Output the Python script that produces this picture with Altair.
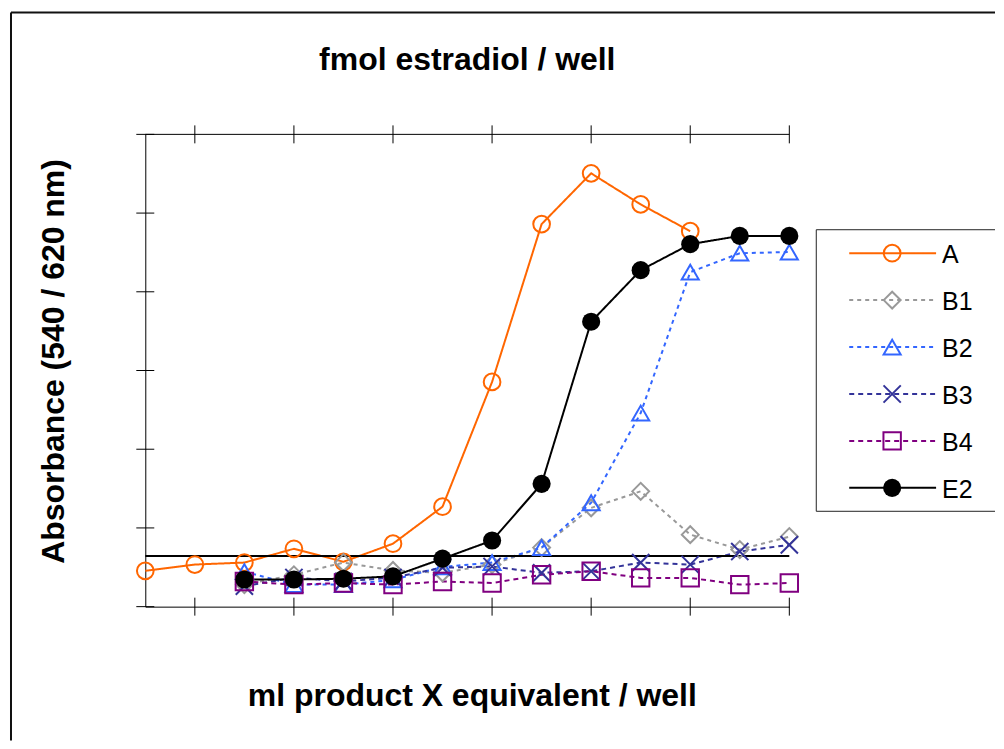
import altair as alt
import pandas as pd

# ---------------- data ----------------
series_names = ["A", "B1", "B2", "B3", "B4", "E2"]

x_A = list(range(0, 12))
y_A = [0.091, 0.107, 0.112, 0.147, 0.114, 0.160, 0.254, 0.571, 0.972, 1.101, 1.022, 0.954]

x_B = list(range(2, 14))
y_B1 = [0.056, 0.081, 0.112, 0.092, 0.086, 0.107, 0.150, 0.251, 0.293, 0.183, 0.145, 0.178]
y_B2 = [0.089, 0.056, 0.056, 0.068, 0.101, 0.112, 0.150, 0.264, 0.492, 0.850, 0.898, 0.901]
y_B3 = [0.052, 0.074, 0.064, 0.074, 0.099, 0.102, 0.086, 0.090, 0.112, 0.107, 0.140, 0.157]
y_B4 = [0.064, 0.056, 0.060, 0.056, 0.064, 0.060, 0.081, 0.090, 0.073, 0.073, 0.056, 0.060]
y_E2 = [0.069, 0.069, 0.071, 0.077, 0.122, 0.168, 0.312, 0.724, 0.855, 0.921, 0.942, 0.942]

baseline_value = 0.129
x_ticks = [1, 3, 5, 7, 9, 11, 13]
y_ticks = [0.0, 0.2, 0.4, 0.6, 0.8, 1.0, 1.2]

title_text = "fmol estradiol / well"
x_title = "ml product X equivalent / well"
y_title = "Absorbance (540 / 620 nm)"

# ---------------- styles ----------------
colors = ["#FF6600", "#999999", "#3366FF", "#333399", "#800080", "#000000"]
dashes = [[1, 0], [4, 4], [4, 4], [5, 4], [5, 4], [1, 0]]
shapes = ["circle", "diamond", "triangle-up", "M-1,-1L1,1M-1,1L1,-1", "square", "circle"]
sizes = [280, 310, 390, 330, 290, 330]
FONT = "Liberation Sans"
TFS = 32

rows = []
for name, xs_, ys_ in [("A", x_A, y_A), ("B1", x_B, y_B1), ("B2", x_B, y_B2),
                       ("B3", x_B, y_B3), ("B4", x_B, y_B4), ("E2", x_B, y_E2)]:
    for xv, yv in zip(xs_, ys_):
        rows.append({"series": name, "x": xv, "y": yv})
df = pd.DataFrame(rows)
one = pd.DataFrame({"k": [0]})
base_df = pd.DataFrame({"bx0": [0], "bx1": [13], "by": [baseline_value]})
xt_df = pd.DataFrame({"xt": x_ticks})
yt_df = pd.DataFrame({"yt": y_ticks})
leg_df = pd.DataFrame({"series": series_names})

W, H = 645, 473
LW, LH = 179, 282

xs = alt.Scale(domain=[0, 13], nice=False, zero=False)
ys = alt.Scale(domain=[0, 1.2], nice=False)
color_scale = alt.Scale(domain=series_names, range=colors)
dash_scale = alt.Scale(domain=series_names, range=dashes)
shape_scale = alt.Scale(domain=series_names, range=shapes)
size_scale = alt.Scale(domain=series_names, range=sizes)

x_axis = alt.Axis(title=x_title, labels=False, ticks=False, grid=False,
                  domainColor="black", domainWidth=1,
                  titleFont=FONT, titleFontSize=TFS, titleFontWeight="bold",
                  titleColor="black", titlePadding=74, titleX=327)
y_axis = alt.Axis(title=y_title, labels=False, ticks=False, grid=False,
                  domainColor="black", domainWidth=1,
                  titleFont=FONT, titleFontSize=TFS, titleFontWeight="bold",
                  titleColor="black", titlePadding=75, titleY=227)


def X(field):
    return alt.X(field, scale=xs, axis=x_axis)


def Y(field):
    return alt.Y(field, scale=ys, axis=y_axis)


base = alt.Chart(df)

lines = base.mark_line(strokeWidth=2).encode(
    x=X("x:Q"), y=Y("y:Q"),
    color=alt.Color("series:N", scale=color_scale, legend=None),
    strokeDash=alt.StrokeDash("series:N", scale=dash_scale, legend=None),
)

baseline = alt.Chart(base_df).mark_rule(color="black", strokeWidth=2).encode(
    y=Y("by:Q"), x=X("bx0:Q"), x2="bx1:Q")

hollow = base.transform_filter(alt.datum.series != "E2").mark_point(
    filled=False, strokeWidth=2, opacity=1).encode(
    x=X("x:Q"), y=Y("y:Q"),
    color=alt.Color("series:N", scale=color_scale, legend=None),
    shape=alt.Shape("series:N", scale=shape_scale, legend=None),
    size=alt.Size("series:N", scale=size_scale, legend=None),
)

solid = base.transform_filter(alt.datum.series == "E2").mark_point(
    filled=True, opacity=1, color="black", size=330).encode(
    x=X("x:Q"), y=Y("y:Q"))

top_line = alt.Chart(base_df).mark_rule(color="black", strokeWidth=1).encode(
    y=alt.value(0), x=X("bx0:Q"), x2="bx1:Q")
top_ticks = alt.Chart(xt_df).mark_rule(color="black", strokeWidth=1).encode(
    x=X("xt:Q"), y=alt.value(-9), y2=alt.value(9))
bottom_ticks = alt.Chart(xt_df).mark_rule(color="black", strokeWidth=1).encode(
    x=X("xt:Q"), y=alt.value(H - 9), y2=alt.value(H + 9))
left_ticks = alt.Chart(yt_df).mark_rule(color="black", strokeWidth=1).encode(
    y=Y("yt:Q"), x=alt.value(-9), x2=alt.value(9))

main = alt.layer(lines, baseline, hollow, solid, top_line, top_ticks,
                 bottom_ticks, left_ticks).properties(
    width=W, height=H,
    title=alt.TitleParams(title_text, font=FONT, fontSize=TFS, fontWeight="bold",
                          color="black", baseline="alphabetic", offset=23,
                          anchor="middle"))

# ---------------- legend panel ----------------
ly = alt.Y("series:N", scale=alt.Scale(type="point", domain=series_names, padding=0.5),
           axis=None)
lbase = alt.Chart(leg_df)
leg_lines = lbase.mark_rule(strokeWidth=2).encode(
    y=ly, x=alt.value(33), x2=alt.value(120),
    color=alt.Color("series:N", scale=color_scale, legend=None),
    strokeDash=alt.StrokeDash("series:N", scale=dash_scale, legend=None))
leg_hollow = lbase.transform_filter(alt.datum.series != "E2").mark_point(
    filled=False, strokeWidth=2, opacity=1).encode(
    y=ly, x=alt.value(76),
    color=alt.Color("series:N", scale=color_scale, legend=None),
    shape=alt.Shape("series:N", scale=shape_scale, legend=None),
    size=alt.Size("series:N", scale=size_scale, legend=None))
leg_solid = lbase.transform_filter(alt.datum.series == "E2").mark_point(
    filled=True, opacity=1, color="black", size=330).encode(y=ly, x=alt.value(76))
leg_text = lbase.mark_text(align="left", baseline="middle", fontSize=25, font=FONT,
                           color="black", dy=2).encode(
    y=ly, x=alt.value(126), text="series:N")

box_left = alt.Chart(one).mark_rule(color="#222222", strokeWidth=1).encode(
    x=alt.value(0), y=alt.value(0), y2=alt.value(LH))
box_top = alt.Chart(one).mark_rule(color="#222222", strokeWidth=1).encode(
    y=alt.value(0), x=alt.value(0), x2=alt.value(LW))
box_bottom = alt.Chart(one).mark_rule(color="#222222", strokeWidth=1).encode(
    y=alt.value(LH), x=alt.value(0), x2=alt.value(LW))

# outer chart-area frame (left and top edges; right/bottom fall outside the picture)
outer_left = alt.Chart(one).mark_rule(color="#111111", strokeWidth=2).encode(
    x=alt.value(-806.5), y=alt.value(-217.5), y2=alt.value(511.5))
outer_top = alt.Chart(one).mark_rule(color="#111111", strokeWidth=2).encode(
    y=alt.value(-217.5), x=alt.value(-806.5), x2=alt.value(LW))

legend = alt.layer(box_left, box_top, box_bottom, leg_lines, leg_hollow, leg_solid,
                   leg_text, outer_left, outer_top).properties(width=LW, height=LH)

chart = alt.hconcat(main, legend, spacing=27, bounds="flush", center=True).properties(
    padding={"left": 1.5, "top": 3, "right": 0, "bottom": 0}
).configure_view(stroke=None)

chart.save("out.html", embed_options={"renderer": "svg", "actions": False})
